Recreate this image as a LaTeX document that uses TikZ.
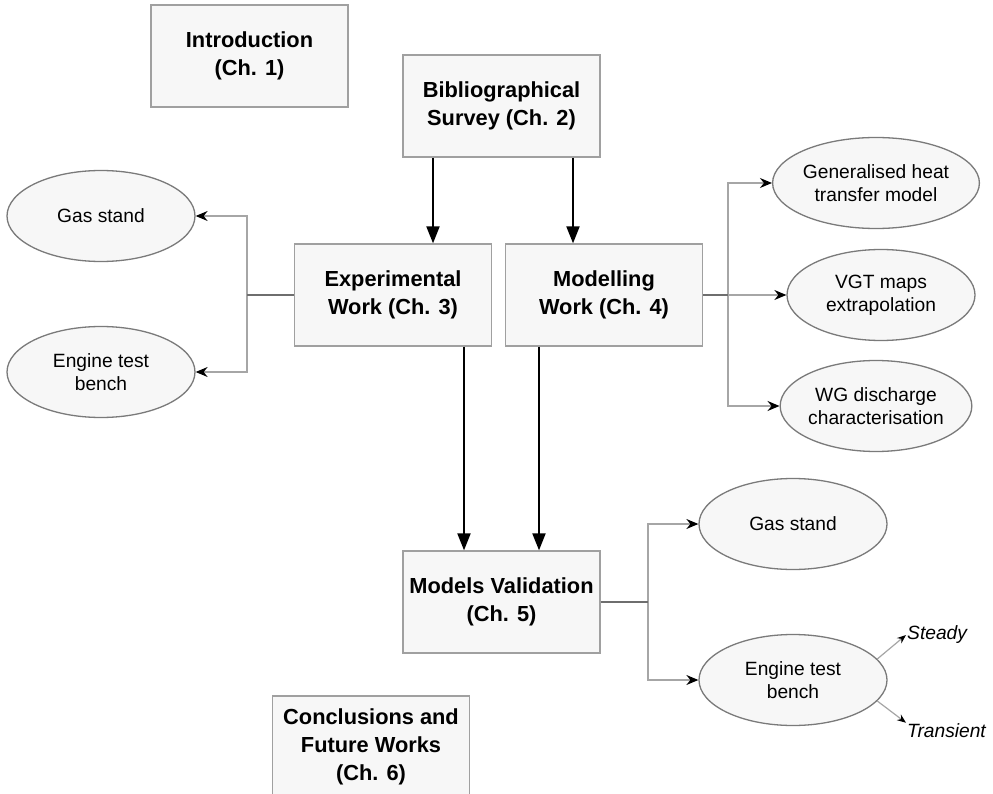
\documentclass[tikz,border=0pt]{standalone}
\usepackage{fontspec}
\setmainfont{Liberation Sans}
\usetikzlibrary{arrows.meta,shapes.geometric}
\definecolor{boxfill}{HTML}{F7F7F7}
\definecolor{boxline}{HTML}{A0A0A0}
\definecolor{elline}{HTML}{7A7A7A}
\definecolor{conline}{HTML}{A6A6A6}
\definecolor{stubline}{HTML}{6E6E6E}
\begin{document}
\begin{tikzpicture}[x=1pt,y=-1pt,
  chbox/.style={draw=boxline, fill=boxfill, line width=1.3pt, minimum width=197pt, minimum height=102pt, inner sep=0pt, align=center, font=\fontsize{21.8}{28}\selectfont\bfseries},
  oval/.style={ellipse, draw=elline, fill=boxfill, line width=1.3pt, minimum width=188pt, minimum height=91pt, inner sep=0pt, align=center, font=\fontsize{19.2}{23}\selectfont},
  mainarrow/.style={line width=2pt, -{Triangle[length=17pt,width=13pt]}},
  branch/.style={draw=conline, line width=1.3pt, -{Stealth[length=12pt,width=10pt,inset=4pt,black]}},
  smallbranch/.style={draw=conline, line width=1.2pt, -{Stealth[length=9pt,width=7pt,inset=3pt,black]}},
  stub/.style={draw=stubline, line width=1.3pt},
  tag/.style={anchor=west, inner sep=1pt, font=\fontsize{19.2}{23}\selectfont\itshape}
]
\useasboundingbox (0,0) rectangle (993,794);
\fill[white] (0,0) rectangle (993,794);

% chapter boxes
\node[chbox] (intro) at (249.5,56) {Introduction\\(Ch. 1)};
\node[chbox] (bib) at (501.5,106) {Bibliographical\\Survey (Ch. 2)};
\node[chbox] (exp) at (393,295) {Experimental\\Work (Ch. 3)};
\node[chbox] (mod) at (604,295) {Modelling\\Work (Ch. 4)};
\node[chbox] (val) at (501.5,602) {Models Validation\\(Ch. 5)};
\node[chbox] (concl) at (371,747) {Conclusions and\\Future Works\\(Ch. 6)};

% ellipses
\node[oval] (gasL) at (101,216) {Gas stand};
\node[oval] (engL) at (101,372) {Engine test\\bench};
\node[oval] (gen) at (876,183) {Generalised heat\\transfer model};
\node[oval] (vgt) at (881,295) {VGT maps\\extrapolation};
\node[oval] (wg) at (876,406) {WG discharge\\characterisation};
\node[oval] (gasR) at (793,524) {Gas stand};
\node[oval] (engR) at (793,680) {Engine test\\bench};

\node[tag] (st) at (906,635) {Steady};
\node[tag] (tr) at (906,731) {Transient};

% main arrows
\draw[mainarrow] ([xshift=-68.5pt]bib.south) -- ([xshift=40pt]exp.north);
\draw[mainarrow] ([xshift=71.5pt]bib.south) -- ([xshift=-31pt]mod.north);
\draw[mainarrow] ([xshift=71pt]exp.south) -- ([xshift=-37.5pt]val.north);
\draw[mainarrow] ([xshift=-65pt]mod.south) -- ([xshift=37.5pt]val.north);

% left branch
\coordinate (lb) at (247,295);
\draw[branch] (lb) |- (gasL.east);
\draw[branch] (lb) |- (engL.east);
\draw[stub] (exp.west) -- (lb);

% right branch
\coordinate (rb) at (728,295);
\draw[branch] (rb) |- (gen.west);
\draw[branch] (rb) |- (wg.west);
\draw[branch] (rb) -- (vgt.west);
\draw[stub] (mod.east) -- (rb);

% validation branch
\coordinate (vb) at (648,602);
\draw[branch] (vb) |- (gasR.west);
\draw[branch] (vb) |- (engR.west);
\draw[stub] (val.east) -- (vb);

% steady / transient
\draw[smallbranch] (engR.14) -- (st.west);
\draw[smallbranch] (engR.-14) -- (tr.north west);
\end{tikzpicture}
\end{document}
